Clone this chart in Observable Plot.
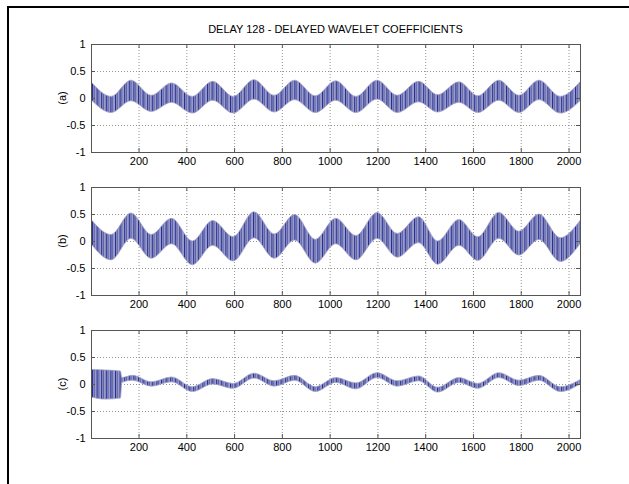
<!DOCTYPE html>
<html><head><meta charset="utf-8">
<script src="https://cdn.jsdelivr.net/npm/d3@7"></script>
<script src="https://cdn.jsdelivr.net/npm/@observablehq/plot@0.6"></script>
<style>
html,body{margin:0;padding:0;background:#fff;}
#page{position:relative;width:629px;height:484px;overflow:hidden;background:#fff;font-family:"Liberation Sans",Arial,sans-serif;color:#000;}
#frame{position:absolute;left:7px;top:6px;width:800px;height:700px;border-left:2px solid #000;border-top:2px solid #000;}
#title{position:absolute;left:91px;width:489px;top:23px;line-height:13px;text-align:center;font-size:11px;}
.panel{position:absolute;left:0;}
.ylab{position:absolute;font-size:11px;line-height:12px;width:30px;text-align:center;transform:rotate(-90deg);}
</style></head>
<body>
<svg width="0" height="0" style="position:absolute">
  <defs>
    <pattern id="stripes" patternUnits="userSpaceOnUse" x="0" y="0" width="4.6" height="9">
      <rect width="4.6" height="9" fill="#9a9cc6"></rect>
      <rect x="1.6" width="1.1" height="9" fill="#5a5fa8"></rect>
      <rect x="0" width="0.9" height="9" fill="#1f2896"></rect>
    </pattern>
  </defs>
</svg>
<div id="page">
  <div id="frame"></div>
  <div id="title"></div>
</div>
<script>
// ---- data ----
const title = "DELAY 128 - DELAYED WAVELET COEFFICIENTS";
const panelLabels = ["(a)", "(b)", "(c)"];
const xTicks = [200, 400, 600, 800, 1000, 1200, 1400, 1600, 1800, 2000];
const yTicks = [-1, -0.5, 0, 0.5, 1];
const xDomain = [1, 2048];

// envelope knots (sample index) at slow-wave peaks/troughs
const knotsAB = [1, 85, 168, 253, 338, 425, 510, 596, 683, 768, 853, 940, 1025, 1110, 1198, 1283, 1372, 1452, 1541, 1620, 1708, 1792, 1876, 1965, 2048];
const aUpper = [0.30, 0.03, 0.33, 0.05, 0.28, 0.03, 0.31, 0.03, 0.34, 0.05, 0.33, 0.04, 0.32, 0.03, 0.33, 0.05, 0.31, 0.06, 0.30, 0.04, 0.33, 0.05, 0.33, 0.03, 0.30];
const aLower = [-0.03, -0.27, -0.05, -0.25, -0.08, -0.28, -0.04, -0.28, -0.02, -0.26, -0.03, -0.27, -0.04, -0.27, -0.02, -0.27, -0.07, -0.26, -0.08, -0.27, -0.04, -0.27, -0.03, -0.28, -0.05];
const bUpper = [0.40, 0.12, 0.52, 0.12, 0.42, 0.00, 0.38, 0.08, 0.54, 0.13, 0.49, 0.03, 0.42, 0.10, 0.53, 0.14, 0.45, 0.00, 0.40, 0.08, 0.53, 0.18, 0.50, 0.06, 0.38];
const bLower = [-0.05, -0.35, 0.05, -0.32, -0.05, -0.44, -0.08, -0.37, 0.06, -0.32, 0.02, -0.41, -0.05, -0.35, 0.05, -0.30, -0.03, -0.43, -0.08, -0.36, 0.05, -0.26, 0.03, -0.38, -0.05];
const knotsC = [1, 60, 124, 130, 175, 253, 338, 425, 510, 596, 683, 768, 853, 940, 1025, 1110, 1198, 1283, 1372, 1452, 1541, 1620, 1708, 1792, 1876, 1965, 2048];
const cUpper = [0.27, 0.26, 0.24, 0.12, 0.16, 0.04, 0.13, -0.05, 0.10, 0.01, 0.20, 0.06, 0.16, -0.05, 0.12, 0.02, 0.21, 0.06, 0.15, -0.06, 0.12, 0.01, 0.21, 0.07, 0.16, -0.05, 0.08];
const cLower = [-0.24, -0.28, -0.26, 0.03, 0.07, -0.04, 0.04, -0.14, 0.00, -0.08, 0.11, -0.04, 0.07, -0.14, 0.03, -0.09, 0.12, -0.04, 0.06, -0.15, 0.03, -0.08, 0.12, -0.03, 0.07, -0.14, 0.00];

const series = [
  {knots: knotsAB, upper: aUpper, lower: aLower},
  {knots: knotsAB, upper: bUpper, lower: bLower},
  {knots: knotsC, upper: cUpper, lower: cLower}
];
const svgTops = [34, 177, 320];

const page = document.getElementById("page");
document.getElementById("title").textContent = title;

series.forEach((s, i) => {
  const rows = s.knots.map((x, j) => ({x, lo: s.lower[j], hi: s.upper[j]}));
  const chart = Plot.plot({
    width: 629, height: 143,
    marginLeft: 91, marginRight: 49, marginTop: 10, marginBottom: 25,
    style: {fontSize: "11px", fontFamily: "'Liberation Sans', Arial, sans-serif", color: "#000", background: "transparent", overflow: "visible"},
    x: {domain: xDomain, ticks: xTicks},
    y: {domain: [-1, 1], ticks: yTicks},
    marks: [
      Plot.gridX(xTicks, {stroke: "#888", strokeOpacity: 0.9, strokeDasharray: "1,2"}),
      Plot.gridY([-0.5, 0, 0.5], {stroke: "#888", strokeOpacity: 0.9, strokeDasharray: "1,2"}),
      Plot.areaY(rows, {x: "x", y1: "lo", y2: "hi", curve: "monotone-x", fill: "url(#stripes)", stroke: "#9ea0c8", strokeWidth: 0.8, clip: true}),
      Plot.frame({stroke: "#555"}),
      Plot.tickY(yTicks, {y: d => d, insetRight: 485, stroke: "#555"}),
      Plot.tickY(yTicks, {y: d => d, insetLeft: 485, stroke: "#555"}),
      Plot.tickX(xTicks, {x: d => d, insetTop: 104, stroke: "#555"}),
      Plot.tickX(xTicks, {x: d => d, insetBottom: 104, stroke: "#555"}),
      Plot.axisY(yTicks, {tickSize: 0, tickPadding: 6, tickFormat: d => String(d), label: null}),
      Plot.axisX(xTicks, {tickSize: 0, tickPadding: 5, tickFormat: d => String(d), label: null})
    ]
  });
  chart.classList.add("panel");
  chart.style.top = svgTops[i] + "px";
  page.appendChild(chart);
  const lab = document.createElement("div");
  lab.className = "ylab";
  lab.textContent = panelLabels[i];
  lab.style.left = (62 - 15) + "px";
  lab.style.top = (svgTops[i] + 10 + 54 - 6) + "px";
  page.appendChild(lab);
});
</script>
</body></html>
